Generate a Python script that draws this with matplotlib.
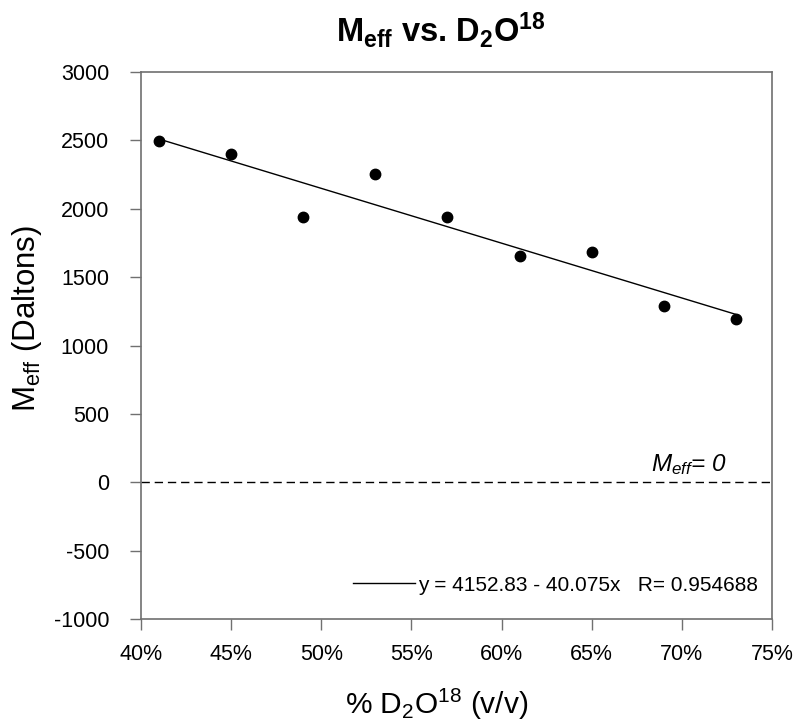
import numpy as np
import matplotlib
matplotlib.use("Agg")
import matplotlib.pyplot as plt

## Data
conc = [41, 45, 49, 53, 57, 61, 65, 69, 73]           ## % D2O18 (v/v)
meff = [2493, 2400, 1939, 2256, 1939, 1658, 1682, 1287, 1195]  ## Daltons
fit_a = 4152.83
fit_b = -40.075
fit_r = 0.954688
xticks = [40, 45, 50, 55, 60, 65, 70, 75]
yticks = [-1000, -500, 0, 500, 1000, 1500, 2000, 2500, 3000]

plt.rcParams["font.family"] = ["Liberation Sans", "DejaVu Sans"]
plt.rcParams["mathtext.fontset"] = "custom"
plt.rcParams["mathtext.rm"] = "Liberation Sans"
plt.rcParams["mathtext.it"] = "Liberation Sans:italic"
plt.rcParams["mathtext.bf"] = "Liberation Sans:bold"
plt.rcParams["mathtext.default"] = "regular"
plt.rcParams["axes.unicode_minus"] = False

fig = plt.figure(figsize=(7.96, 7.25), dpi=100)
ax = fig.add_axes([141/796, 1-619/725, (772-141)/796, (619-72)/725])

## fit line and points
x_fit = np.array([conc[0], conc[-1]])
ax.plot(x_fit, fit_a + fit_b*x_fit, color="black", linewidth=1,
        label="y = %.2f - %.3fx   R= %.6f" % (fit_a, -fit_b, fit_r))
ax.plot(conc, meff, "o", color="black", markersize=7.5, zorder=3)
ax.axhline(0, color="black", linewidth=1, dashes=(6, 3.5))
ax.text(68.3, 80, "M$_{eff}$= 0", fontsize=17.5, style="italic")

ax.set_xlim(40, 75)
ax.set_ylim(-1000, 3000)
ax.set_xticks(xticks)
ax.set_xticklabels(["%d%%" % t for t in xticks])
ax.set_yticks(yticks)
ax.tick_params(direction="out", length=8, width=1, color="#707070",
               labelsize=15.5)
ax.tick_params(axis="x", pad=10)
ax.tick_params(axis="y", pad=15)
for s in ax.spines.values():
    s.set_color("#707070")
    s.set_linewidth(1.2)

leg = ax.legend(loc="lower right", frameon=False, fontsize=15,
                handlelength=3.0, handletextpad=0.15,
                bbox_to_anchor=(1.008, 0.01))

fig.text(441/796, 1-30/725, "M$_{eff}$ vs. D$_2$O$^{18}$", fontsize=23.5,
         fontweight="bold", ha="center", va="center")
fig.text(437/796, 1-704/725, "% D$_2$O$^{18}$ (v/v)", fontsize=21.5,
         ha="center", va="center")
fig.text(27/796, 1-318/725, "M$_{eff}$ (Daltons)", fontsize=22.5,
         ha="center", va="center", rotation=90)

fig.savefig("out.png", dpi=100)
